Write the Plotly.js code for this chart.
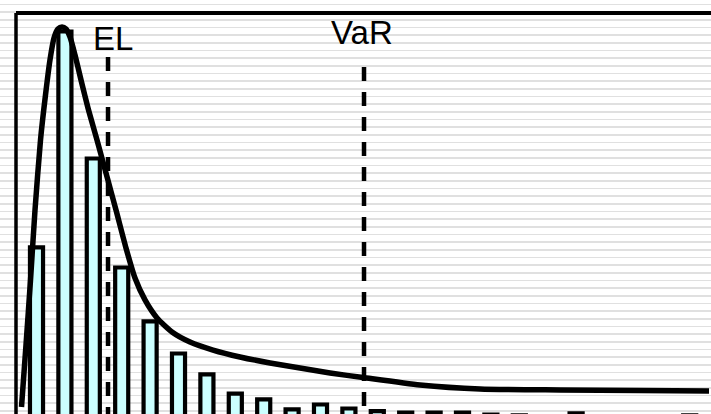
<!DOCTYPE html>
<html>
<head>
<meta charset="utf-8">
<script src="https://cdn.plot.ly/plotly-3.0.1.min.js"></script>
<style>
  html, body { margin: 0; padding: 0; background: #ffffff; }
  #chart {
    width: 711px; height: 414px;
    background: repeating-linear-gradient(to bottom,
      #ffffff 0px, #ffffff 3.5px, #e0e0e0 3.5px, #e0e0e0 5.2px, #ffffff 5.2px, #ffffff 7.67px);
  }
</style>
</head>
<body>
<div id="chart"></div>
<script>
// Loss bins (1..24) and histogram frequencies
const bins = [1,2,3,4,5,6,7,8,9,10,11,12,13,14,15,16,17,18,19,20,21,22,23,24];
const freq = [129.2,290.9,195.8,114.2,73.8,49.8,34.1,19.8,15.4,7.9,11.6,8.6,6.7,5.6,5.6,5.6,4.1,3.4,2.2,4.9,2.2,2.2,2.2,3.4];

// Fitted loss density curve
const curveX = [0.472,0.630,0.789,0.947,1.141,1.317,1.475,1.616,1.757,1.898,2.039,2.180,2.356,2.567,2.813,3.130,3.447,3.799,4.151,4.468,4.820,5.243,5.771,6.405,7.215,8.165,9.222,10.278,11.335,12.496,14.504,16.616,19.433,22.250,24.680];
const curveY = [9.7,56.2,104.8,157.2,209.7,243.4,269.6,286.0,292.8,294.3,292.8,286.8,273.3,254.6,233.6,209.7,184.9,157.2,128.8,106.3,89.9,76.4,65.9,58.4,52.4,47.2,42.7,38.9,35.2,31.8,26.2,23.2,22.5,22.1,21.7];

// Markers: expected loss and value at risk
const markerNames = ["EL", "VaR"];
const markerX = [3.518, 12.532];
const markerTop = [271.8, 264.3];
const labelX = [3.694, 12.444];
const labelY = [285.7, 289.8];

const traces = [
  {
    type: 'bar', x: bins, y: freq, width: 0.46,
    marker: { color: '#ccffff', line: { color: '#000000', width: 4.2 } },
    hoverinfo: 'skip'
  },
  {
    type: 'scatter', mode: 'lines', x: curveX, y: curveY,
    line: { color: '#000000', width: 5.5, shape: 'spline', smoothing: 0.6 },
    hoverinfo: 'skip'
  }
];
markerX.forEach((mx, i) => {
  traces.push({
    type: 'scatter', mode: 'lines', x: [mx, mx], y: [markerTop[i], 0],
    line: { color: '#000000', width: 4.5, dash: '14px,11px' },
    hoverinfo: 'skip'
  });
});

const layout = {
  width: 711, height: 414,
  margin: { l: 16, r: 0, t: 13, b: 0, pad: 0 },
  paper_bgcolor: 'rgba(0,0,0,0)',
  plot_bgcolor: 'rgba(0,0,0,0)',
  showlegend: false,
  bargap: 0,
  xaxis: { range: [0.278, 24.75], showgrid: false, zeroline: false, showticklabels: false, ticks: '', showline: false },
  yaxis: { range: [4.49, 304.76], showgrid: false, zeroline: false, showticklabels: false, ticks: '', showline: false },
  shapes: [
    { type: 'line', xref: 'paper', yref: 'paper', x0: 0, x1: 1, y0: 1, y1: 1, line: { color: '#000000', width: 4 } },
    { type: 'line', xref: 'paper', yref: 'paper', x0: 0, x1: 0, y0: 0, y1: 1, line: { color: '#000000', width: 3.5 } }
  ],
  annotations: markerNames.map((t, i) => ({
    x: labelX[i], y: labelY[i], xref: 'x', yref: 'y',
    text: t, showarrow: false, xanchor: 'center', yanchor: 'middle',
    font: { family: 'Liberation Sans, Arial, sans-serif', size: 33, color: '#000000' }
  }))
};

Plotly.newPlot('chart', traces, layout, { displayModeBar: false, staticPlot: true });
</script>
</body>
</html>
